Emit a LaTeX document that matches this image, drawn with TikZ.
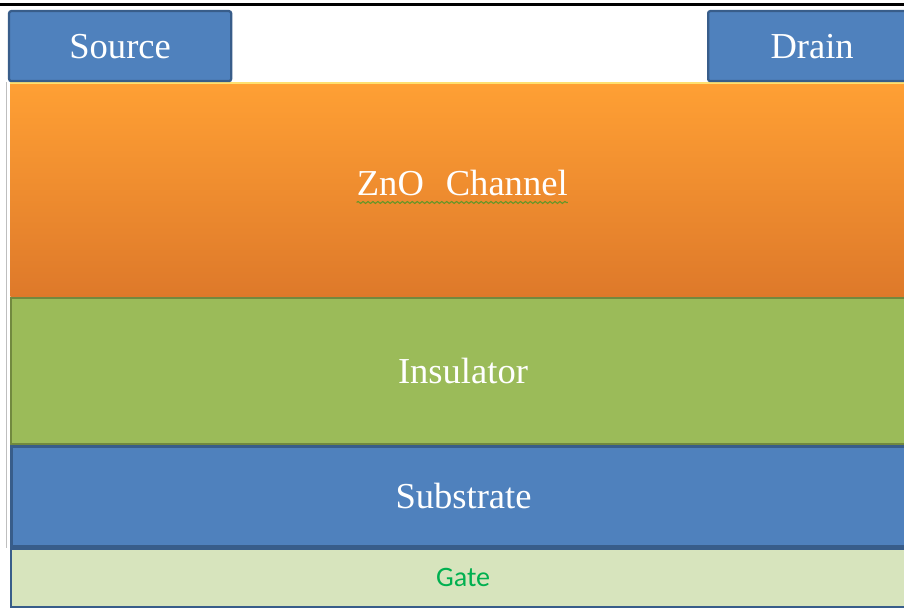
\documentclass[tikz,border=0pt]{standalone}
\usepackage{fontspec}
\setmainfont{Liberation Serif}
\newfontfamily\gatefont{Carlito}
\usepackage{xcolor}
\usepackage{tikz}
\usetikzlibrary{positioning,decorations.pathmorphing}

\definecolor{contactblue}{RGB}{79,129,189}
\definecolor{contactedge}{RGB}{56,93,138}
\definecolor{znotop}{RGB}{255,160,52}
\definecolor{znobottom}{RGB}{222,121,42}
\definecolor{znoglow}{RGB}{255,224,112}
\definecolor{insgreen}{RGB}{155,187,89}
\definecolor{insedge}{RGB}{113,137,63}
\definecolor{gatefill}{RGB}{215,228,189}
\definecolor{gatetext}{RGB}{0,176,80}
\definecolor{squiggle}{RGB}{104,150,40}

\begin{document}
\begin{tikzpicture}[
	every node/.style = {shape=rectangle, inner sep=0pt, text=white,
	font=\fontsize{26}{31}\selectfont},
	contact/.style = {fill=contactblue, draw=contactedge, line width=1.6pt,
	rounded corners=1.5pt, minimum height=1.75cm, anchor=north west},
	layer/.style = {minimum width=22.6cm},
	stacked/.style = {below right=0pt of #1}
]
\useasboundingbox (0,0) rectangle (22.6,15.225);
\clip (0,0) rectangle (22.6,15.225);

% layer stack, top to bottom
\node[layer, anchor=north west, top color=znotop, bottom color=znobottom,
	minimum height=5.35cm] (chan) at (0.25,13.175) {};
\node[layer, stacked=chan.south west, fill=insgreen, draw=insedge,
	line width=1.4pt, minimum height=3.65cm] (ins) {Insulator};
\node[layer, stacked=ins.south west, fill=contactblue, draw=contactedge,
	line width=2.2pt, minimum height=2.5cm] (sub) {Substrate};
\node[layer, stacked=sub.south west, fill=gatefill, draw=contactedge,
	line width=1.6pt, minimum height=1.45cm, text=gatetext,
	font=\gatefont\fontsize{20}{24}\selectfont] (gate) {Gate};

% channel highlight and label
\draw[znoglow, line width=1.3pt] ([yshift=-0.03cm]chan.north west)
	-- ([yshift=-0.03cm]chan.north east);
\node[anchor=base] (zno) at ([yshift=-0.15cm]chan.center)
	{ZnO\hspace{0.6em}Channel};
\draw[squiggle, line width=0.8pt, decorate,
	decoration={snake, amplitude=0.7pt, segment length=3.5pt}]
	([yshift=-0.18cm]zno.base west) -- ([yshift=-0.18cm]zno.base east);

% contacts
\node[contact, minimum width=5.55cm] (source) at (0.2,14.975) {Source};
\node[contact, minimum width=5.2cm] (drain) at (17.675,14.975) {Drain};

% frame lines
\draw[black, line width=2.2pt] (0,15.11) -- (22.6,15.11);
\draw[black!25, line width=0.6pt] ([xshift=-0.1cm]chan.north west)
	-- ([xshift=-0.1cm]sub.south west);
\end{tikzpicture}
\end{document}
